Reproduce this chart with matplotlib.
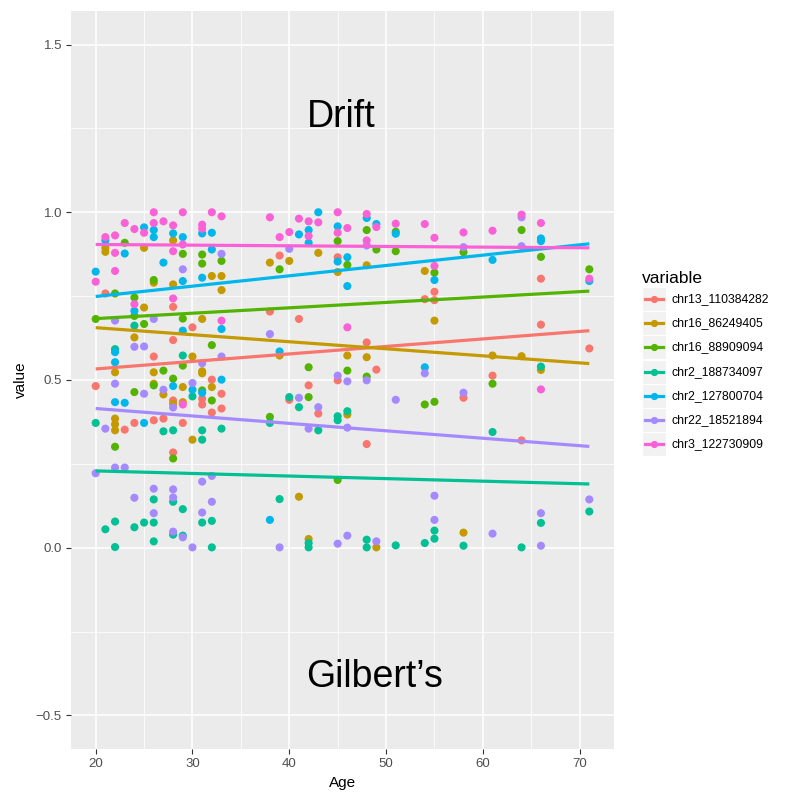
import numpy as np
import matplotlib
matplotlib.use('Agg')
import matplotlib.pyplot as plt
from matplotlib.patches import Rectangle
from matplotlib.lines import Line2D

plt.rcParams['font.family'] = ['Liberation Sans', 'DejaVu Sans']

# series names and ggplot default hue colours
variables = ['chr13_110384282', 'chr16_86249405', 'chr16_88909094', 'chr2_188734097',
             'chr2_127800704', 'chr22_18521894', 'chr3_122730909']
colors = ['#F8766D', '#C49A00', '#53B400', '#00C094', '#00B6EB', '#A58AFF', '#FB61D7']

# (age, value) points, one list per variable
chr13_110384282 = [(20, .482), (21, .758), (23, .352), (24, .372), (26, .570), (26, .380), (27, .385),
                   (28, .718), (28, .619), (28, .439), (28, .284), (29, .372), (30, .657), (31, .444),
                   (31, .427), (32, .501), (32, .403), (33, .459), (33, .415), (38, .704), (39, .871),
                   (40, .441), (41, .682), (42, .484), (43, .400), (45, .866), (45, .499), (48, .612),
                   (48, .309), (49, .531), (54, .741), (55, .763), (55, .738), (58, .447), (61, .513),
                   (64, .320), (66, .802), (66, .665), (71, .594)]
chr16_86249405 = [(21, .894), (21, .882), (22, .523), (22, .385), (22, .368), (22, .350), (24, .627),
                  (25, .894), (25, .716), (26, .790), (26, .523), (26, .489), (27, .457), (28, .916),
                  (28, .785), (28, .429), (29, .479), (29, .434), (30, .570), (30, .322), (31, .682),
                  (31, .526), (31, .520), (32, .810), (32, .479), (33, .810), (33, .768), (38, .850),
                  (39, .573), (40, .855), (41, .152), (42, .026), (43, .879), (45, .822), (46, .573),
                  (46, .397), (48, .842), (48, .568), (49, .001), (54, .825), (55, .677), (58, .045),
                  (61, .573), (64, .571), (66, .530)]
chr16_88909094 = [(20, .682), (22, .758), (22, .301), (23, .909), (24, .746), (24, .691), (24, .464),
                  (25, .667), (26, .798), (26, .484), (27, .528), (28, .504), (28, .266), (29, .876),
                  (29, .683), (29, .543), (31, .874), (31, .847), (31, .469), (32, .604), (32, .439),
                  (33, .855), (38, .390), (39, .830), (42, .538), (42, .449), (45, .914), (45, .202),
                  (46, .843), (46, .528), (48, .947), (48, .510), (49, .889), (51, .942), (51, .884),
                  (54, .427), (55, .820), (55, .435), (58, .881), (61, .489), (64, .947), (66, .867),
                  (71, .830)]
chr2_188734097 = [(20, .372), (21, .055), (22, .592), (22, .078), (22, .002), (24, .662), (24, .061),
                  (25, .075), (26, .144), (26, .075), (26, .019), (27, .347), (28, .350), (28, .137),
                  (28, .039), (29, .573), (29, .115), (29, .036), (30, .451), (31, .350), (31, .322),
                  (31, .075), (32, .080), (32, .001), (33, .355), (38, .372), (39, .145), (40, .449),
                  (41, .419), (42, .014), (42, .001), (43, .350), (45, .392), (45, .380), (46, .407),
                  (48, .024), (48, .001), (51, .007), (54, .014), (55, .051), (55, .027), (58, .006),
                  (61, .345), (64, .001), (66, .540), (66, .074), (71, .108)]
chr2_127800704 = [(20, .823), (21, .916), (22, .583), (22, .553), (22, .434), (23, .877), (23, .432),
                  (24, .706), (25, .955), (25, .372), (26, .947), (26, .926), (27, .850), (28, .937),
                  (28, .482), (29, .926), (29, .795), (29, .647), (30, .471), (31, .937), (31, .805),
                  (31, .462), (32, .939), (32, .889), (33, .652), (33, .501), (38, .083), (39, .585),
                  (41, .934), (42, .947), (42, .909), (43, 1.0), (45, .958), (45, .853), (46, .866),
                  (46, .780), (48, .983), (49, .965), (51, .936), (54, .538), (55, .798), (61, .858),
                  (66, .922), (66, .914), (71, .795)]
chr22_18521894 = [(20, .222), (21, .355), (22, .677), (22, .489), (22, .239), (23, .239), (24, .599),
                  (24, .149), (25, .600), (25, .459), (26, .682), (26, .176), (26, .103), (27, .471),
                  (28, .418), (28, .174), (28, .150), (28, .048), (29, .830), (29, .031), (30, .491),
                  (30, .001), (31, .550), (31, .197), (31, .105), (32, .214), (32, .137), (33, .876),
                  (33, .570), (38, .637), (39, .001), (40, .891), (41, .447), (42, .355), (43, .419),
                  (45, .513), (45, .012), (46, .496), (46, .358), (46, .036), (48, .901), (48, .499),
                  (49, .019), (51, .441), (54, .520), (55, .155), (55, .083), (58, .896), (58, .462),
                  (61, .042), (64, .985), (64, .899), (66, .103), (66, .006), (71, .144)]
chr3_122730909 = [(20, .793), (21, .926), (22, .931), (22, .879), (22, .825), (23, .968), (24, .950),
                  (24, .726), (25, .939), (26, 1.0), (26, .968), (27, .973), (28, .961), (28, .884),
                  (28, .743), (29, 1.0), (29, .904), (29, .427), (31, .963), (31, .951), (32, 1.0),
                  (33, .988), (33, .677), (38, .985), (39, .926), (40, .941), (41, .981), (42, .973),
                  (42, .929), (43, .970), (45, 1.0), (45, .939), (46, .953), (46, .657), (48, .995),
                  (48, .916), (49, .956), (51, .966), (54, .965), (55, .924), (55, .840), (58, .940),
                  (61, .945), (64, .993), (66, .968), (66, .472), (71, .802)]

series = [chr13_110384282, chr16_86249405, chr16_88909094, chr2_188734097,
          chr2_127800704, chr22_18521894, chr3_122730909]

# linear fit lines (geom_smooth, method lm), value at the first and last age
fit_ages = [20, 71]
fit_start = [0.533, 0.656, 0.683, 0.229, 0.749, 0.415, 0.904]
fit_end = [0.647, 0.549, 0.765, 0.190, 0.906, 0.302, 0.894]

W, H = 790, 794
fig = plt.figure(figsize=(W / 100, H / 100), dpi=100)
ax = fig.add_axes([71 / W, 1 - 749 / H, (614 - 71) / W, (749 - 11) / H])
ax.set_facecolor('#EBEBEB')
for s in ax.spines.values():
    s.set_visible(False)

for pts, c in zip(series, colors):
    a = np.array(pts)
    ax.scatter(a[:, 0], a[:, 1], s=34, color=c, edgecolors='none', zorder=3)
for c, y0, y1 in zip(colors, fit_start, fit_end):
    ax.plot(fit_ages, [y0, y1], color=c, linewidth=2.3, zorder=4, solid_capstyle='butt')

ax.set_xlim(17.45, 73.55)
ax.set_ylim(-0.6, 1.6)
ax.set_xticks([20, 30, 40, 50, 60, 70])
ax.set_yticks([-0.5, 0.0, 0.5, 1.0, 1.5])
ax.set_yticklabels(['\u22120.5', '0.0', '0.5', '1.0', '1.5'])
ax.set_xticks([25, 35, 45, 55, 65], minor=True)
ax.set_yticks([-0.25, 0.25, 0.75, 1.25], minor=True)
ax.grid(which='major', color='white', linewidth=1.1, zorder=0)
ax.grid(which='minor', color='white', linewidth=0.55, zorder=0)
ax.set_axisbelow(True)
ax.tick_params(which='major', length=3.5, width=0.8, color='#333333', labelcolor='#4D4D4D',
               labelsize=9.5, pad=3)
ax.tick_params(which='minor', length=0)
ax.set_xlabel('Age', fontsize=11, labelpad=4)
ax.set_ylabel('value', fontsize=11, labelpad=6)

# annotations
fig.text(341 / W, 1 - 117 / H, 'Drift', fontsize=27, ha='center', va='center')
fig.text(375 / W, 1 - 677 / H, 'Gilbert\u2019s', fontsize=27, ha='center', va='center')

# legend drawn like ggplot: grey key boxes with line + point
fig.text(642 / W, 1 - 278 / H, 'variable', fontsize=12.5, ha='left', va='center')
for i, (name, c) in enumerate(zip(variables, colors)):
    yc = 299 + i * 24.2
    fig.patches.append(Rectangle((642 / W, 1 - (yc + 12) / H), 24 / W, 24 / H,
                                 transform=fig.transFigure, facecolor='#F2F2F2',
                                 edgecolor='white', linewidth=0.8))
    fig.lines.append(Line2D([645 / W, 663 / W], [1 - yc / H, 1 - yc / H], transform=fig.transFigure,
                            color=c, linewidth=2.3))
    fig.lines.append(Line2D([654 / W], [1 - yc / H], transform=fig.transFigure, marker='o',
                            markersize=5.2, color=c, markeredgewidth=0))
    fig.text(672 / W, 1 - yc / H, name, fontsize=8.8, ha='left', va='center', color='black')

fig.savefig('out.png', dpi=100)
